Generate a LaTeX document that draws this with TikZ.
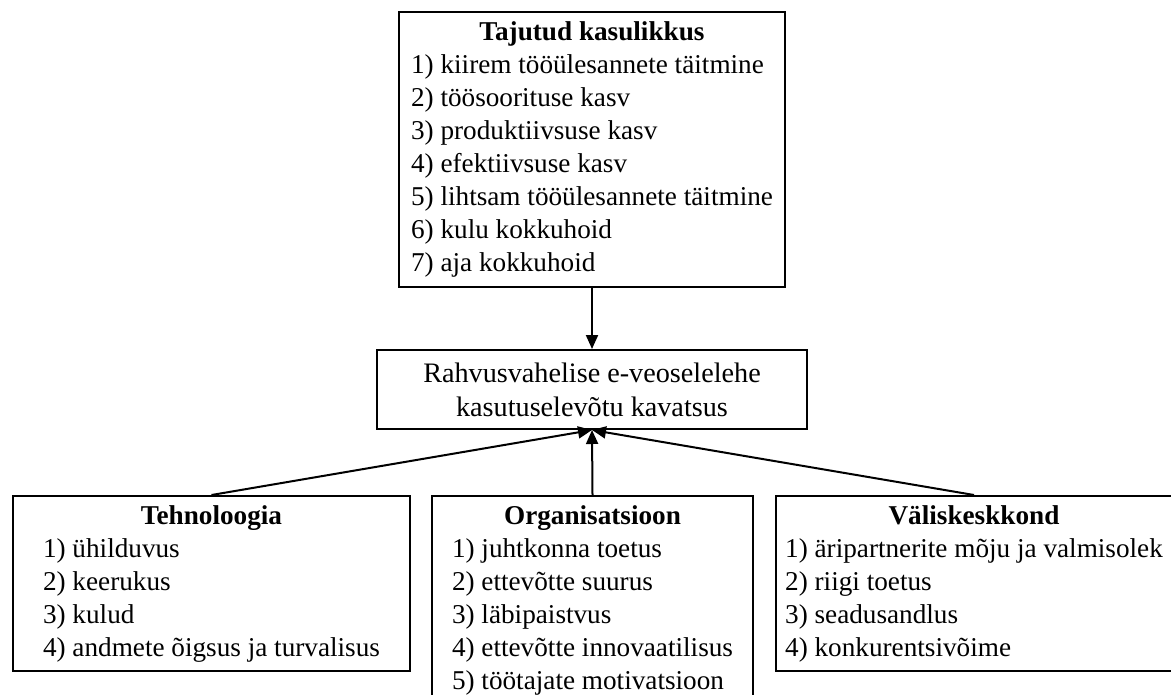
\documentclass[tikz,border=0pt]{standalone}
\usepackage{fontspec}
\setmainfont{Liberation Serif}
\usetikzlibrary{arrows.meta}

\begin{document}
\begin{tikzpicture}[x=0.5pt,y=-0.5pt,
        box/.style={draw=black,line width=1pt,inner sep=0pt,font=\fontsize{13.6}{16.5}\selectfont},
        link/.style={line width=1pt,-{Triangle[length=7pt,width=6pt]}}]
        \useasboundingbox (0,0) rectangle (1171,695);
        \clip (0,0) rectangle (1171,695);
        \node[box,minimum width=193pt,minimum height=137.5pt] (useful) at (592,149.5)
            {\begin{tabular}{@{}l@{}}\multicolumn{1}{c}{\textbf{Tajutud kasulikkus}}\\
            1) kiirem tööülesannete täitmine\\2) töösoorituse kasv\\3) produktiivsuse kasv\\
            4) efektiivsuse kasv\\5) lihtsam tööülesannete täitmine\\6) kulu kokkuhoid\\7) aja kokkuhoid\end{tabular}};
        \node[box,minimum width=215pt,minimum height=39.5pt,align=center,
            font=\fontsize{14.1}{17}\selectfont] (intent) at (592,389.5)
            {Rahvusvahelise e-veoselelehe\\kasutuselevõtu kavatsus};
        \node[box,minimum width=198.5pt,minimum height=87.5pt] (tech) at (211.5,583.5)
            {\begin{tabular}{@{}l@{}}\multicolumn{1}{c}{\textbf{Tehnoloogia}}\\
            1) ühilduvus\\2) keerukus\\3) kulud\\4) andmete õigsus ja turvalisus\end{tabular}};
        \node[box,minimum width=160.5pt,minimum height=104pt] (org) at (592.5,600)
            {\begin{tabular}{@{}l@{}}\multicolumn{1}{c}{\textbf{Organisatsioon}}\\
            1) juhtkonna toetus\\2) ettevõtte suurus\\3) läbipaistvus\\4) ettevõtte innovaatilisus\\
            5) töötajate motivatsioon\end{tabular}};
        \node[box,minimum width=198pt,minimum height=87.5pt] (env) at (974,583.5)
            {\begin{tabular}{@{}l@{}}\multicolumn{1}{c}{\textbf{Väliskeskkond}}\\
            1) äripartnerite mõju ja valmisolek\\2) riigi toetus\\3) seadusandlus\\4) konkurentsivõime\end{tabular}};

        \draw[link] (useful.south) -- (intent.north);
        \draw[link] (tech.north) -- (intent.south);
        \draw[link] (org.north) -- (intent.south);
        \draw[link] (env.north) -- (intent.south);
\end{tikzpicture}
\end{document}
